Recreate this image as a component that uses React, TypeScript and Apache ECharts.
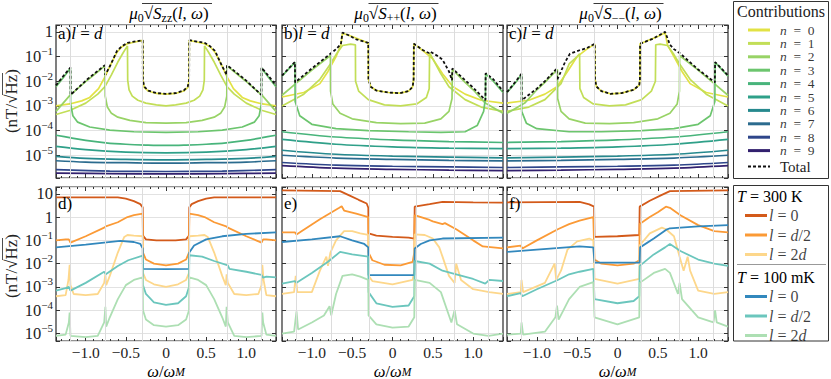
import React, { useEffect, useRef } from 'react';
import * as echarts from 'echarts';

type Pts = [number, number][];

const FONT = "'Liberation Serif', 'DejaVu Serif', serif";

// ---------- axes ----------
const xMin = -1.37;
const xMax = 1.37;
const topYMin = 1.2e-6;
const topYMax = 1.9;
const botYMin = 4.8e-6;
const botYMax = 19.5;
const bandEdges = [-1.19, -0.76, -0.29, 0.29, 0.76, 1.19];

// ---------- legend ----------
const contributionLabels = ['0', '1', '2', '3', '4', '5', '6', '7', '8', '9'];
const contributionColors = ['#e2e244', '#c2de57', '#98d366', '#6cc56e', '#48b47b', '#2fa089', '#26898e', '#2b6b8e', '#2e468a', '#32206e'];
const tempGroups = ['300 K', '100 mK'];
const distLabels = ['0', 'd/2', '2d'];
const tempColors = ['#d35a1a', '#fb9a36', '#fdd78b', '#3288bd', '#6bc6bd', '#addfb3'];
const panelLetters = ['a)', 'b)', 'c)', 'd)', 'e)', 'f)'];

// ---------- panel a : Szz ----------
const aN0: Pts = [[-1.37,1.0e-3],[-1.2,1.2e-3],[-1.05,1.6e-3],[-0.95,2.2e-3],[-0.84,5e-3],[-0.76,0.015],[-0.7,0.04],[-0.61,0.15],[-0.55,0.25],[-0.48,0.33],[-0.4,0.38],[-0.29,0.45],[-0.288,0.011],[-0.27,5.5e-3],[-0.22,4e-3],[-0.12,3.2e-3],[0,3e-3],[0.12,3.2e-3],[0.22,4e-3],[0.27,5.5e-3],[0.288,0.011],[0.29,0.45],[0.4,0.38],[0.48,0.33],[0.55,0.25],[0.61,0.15],[0.7,0.04],[0.76,0.015],[0.84,5e-3],[0.95,2.2e-3],[1.05,1.6e-3],[1.2,1.2e-3],[1.37,1.0e-3]];
const aN1: Pts = [[-1.37,4.5e-4],[-1.2,6.5e-4],[-1.0,1.3e-3],[-0.85,3e-3],[-0.76,6e-3],[-0.68,0.018],[-0.6,0.06],[-0.53,0.15],[-0.48,0.27],[-0.477,0.011],[-0.46,4.5e-3],[-0.42,2.5e-3],[-0.35,1.7e-3],[-0.25,1.3e-3],[-0.12,1.1e-3],[0,1e-3],[0.12,1.1e-3],[0.25,1.3e-3],[0.35,1.7e-3],[0.42,2.5e-3],[0.46,4.5e-3],[0.477,0.011],[0.48,0.27],[0.53,0.15],[0.6,0.06],[0.68,0.018],[0.76,6e-3],[0.85,3e-3],[1.0,1.3e-3],[1.2,6.5e-4],[1.37,4.5e-4]];
const aN2: Pts = [[-1.37,6e-4],[-1.2,2.6e-3],[-0.98,0.011],[-0.76,0.042],[-0.757,2.5e-3],[-0.73,9e-4],[-0.68,5e-4],[-0.6,3.5e-4],[-0.45,2.6e-4],[-0.25,2.1e-4],[0,2e-4],[0.25,2.1e-4],[0.45,2.6e-4],[0.6,3.5e-4],[0.68,5e-4],[0.73,9e-4],[0.757,2.5e-3],[0.76,0.042],[0.98,0.011],[1.2,2.6e-3],[1.37,6e-4]];
const aN3: Pts = [[-1.37,6e-3],[-1.28,0.014],[-1.19,0.034],[-1.188,1.2e-3],[-1.16,4e-4],[-1.1,2.2e-4],[-0.95,1.4e-4],[-0.7,1.05e-4],[-0.4,9e-5],[0,8.5e-5],[0.4,9e-5],[0.7,1.05e-4],[0.95,1.4e-4],[1.1,2.2e-4],[1.16,4e-4],[1.188,1.2e-3],[1.19,0.034],[1.28,0.014],[1.37,6e-3]];
const aN4: Pts = [[-1.37,6.5e-5],[-1.2,5.2e-5],[-1.0,4e-5],[-0.75,3.2e-5],[-0.5,2.8e-5],[-0.25,2.6e-5],[0,2.5e-5],[0.25,2.6e-5],[0.5,2.8e-5],[0.75,3.2e-5],[1.0,4e-5],[1.2,5.2e-5],[1.37,6.5e-5]];
const aN5: Pts = [[-1.37,2.3e-5],[-1.0,1.7e-5],[-0.5,1.35e-5],[0,1.25e-5],[0.5,1.35e-5],[1.0,1.7e-5],[1.37,2.3e-5]];
const aN6: Pts = [[-1.37,9e-6],[-1.0,7.5e-6],[-0.5,6.8e-6],[0,6.5e-6],[0.5,6.8e-6],[1.0,7.5e-6],[1.37,9e-6]];
const aN7: Pts = [[-1.37,6e-6],[-1.0,5.3e-6],[-0.5,5e-6],[0,4.8e-6],[0.5,5e-6],[1.0,5.3e-6],[1.37,6e-6]];
const aN8: Pts = [[-1.37,2.6e-6],[-0.7,2.3e-6],[0,2.2e-6],[0.7,2.3e-6],[1.37,2.6e-6]];
const aN9: Pts = [[-1.37,1.9e-6],[-0.7,1.8e-6],[0,1.75e-6],[0.7,1.8e-6],[1.37,1.9e-6]];
const aTotal: Pts = [[-1.37,6.8e-3],[-1.28,0.016],[-1.19,0.036],[-1.188,2.8e-3],[-0.98,0.012],[-0.76,0.045],[-0.757,0.018],[-0.7,0.04],[-0.61,0.17],[-0.55,0.26],[-0.48,0.36],[-0.4,0.4],[-0.29,0.46],[-0.288,0.011],[-0.27,6e-3],[-0.22,4.2e-3],[-0.12,3.3e-3],[0,3.1e-3],[0.12,3.3e-3],[0.22,4.2e-3],[0.27,6e-3],[0.288,0.011],[0.29,0.46],[0.4,0.4],[0.48,0.36],[0.55,0.26],[0.61,0.17],[0.7,0.04],[0.757,0.018],[0.76,0.045],[0.98,0.012],[1.188,2.8e-3],[1.19,0.036],[1.28,0.016],[1.37,6.8e-3]];

// ---------- panel b : S++ ----------
const bN0: Pts = [[-1.37,2.3e-3],[-1.1,3.5e-3],[-0.9,8e-3],[-0.8,0.025],[-0.7,0.1],[-0.64,0.3],[-0.62,0.88],[-0.5,0.65],[-0.4,0.48],[-0.3,0.35],[-0.298,0.012],[-0.27,6e-3],[-0.2,4.2e-3],[-0.05,3.5e-3],[0.09,3.3e-3],[0.2,4e-3],[0.25,6e-3],[0.262,0.012],[0.265,0.33],[0.38,0.17],[0.5,0.08],[0.62,0.02],[0.75,6e-3],[0.9,3e-3],[1.1,1.7e-3],[1.37,1.3e-3]];
const bN1: Pts = [[-1.37,1e-3],[-1.1,3e-3],[-0.9,0.012],[-0.77,0.05],[-0.7,0.12],[-0.62,0.28],[-0.52,0.32],[-0.46,0.3],[-0.458,0.01],[-0.42,4e-3],[-0.3,1.8e-3],[-0.1,1.1e-3],[0.1,1e-3],[0.3,1.2e-3],[0.42,2.2e-3],[0.455,5e-3],[0.46,0.14],[0.5,0.08],[0.6,0.02],[0.7,6e-3],[0.9,1.8e-3],[1.1,9e-4],[1.37,6e-4]];
const bN2: Pts = [[-1.37,2.7e-3],[-1.2,8e-3],[-1.0,0.028],[-0.77,0.11],[-0.768,4e-3],[-0.74,1.2e-3],[-0.65,5e-4],[-0.5,3e-4],[-0.2,2.1e-4],[0.1,1.9e-4],[0.4,2e-4],[0.6,3e-4],[0.7,6e-4],[0.738,2e-3],[0.742,0.03],[0.9,9e-3],[1.0,4.5e-3],[1.15,1.3e-3],[1.37,5e-4]];
const bN3: Pts = [[-1.37,0.016],[-1.3,0.028],[-1.21,0.058],[-1.207,1.5e-3],[-1.15,4e-4],[-1.0,1.8e-4],[-0.7,1.2e-4],[-0.3,1e-4],[0.2,9e-5],[0.6,8.5e-5],[0.9,9e-5],[1.05,1.6e-4],[1.13,6e-4],[1.152,2e-3],[1.155,0.02],[1.25,0.01],[1.37,3.5e-3]];
const bN4: Pts = [[-1.37,9e-5],[-0.7,5.5e-5],[0,4.2e-5],[0.7,3.6e-5],[1.37,3.3e-5]];
const bN5: Pts = [[-1.37,4.4e-5],[-0.7,2.8e-5],[0,2.2e-5],[0.7,1.95e-5],[1.37,1.85e-5]];
const bN6: Pts = [[-1.37,1.6e-5],[-0.7,1.1e-5],[0,9.3e-6],[0.7,8.4e-6],[1.37,7.8e-6]];
const bN7: Pts = [[-1.37,1e-5],[-0.7,7.7e-6],[0,6.8e-6],[0.7,6.2e-6],[1.37,5.9e-6]];
const bN8: Pts = [[-1.37,5.1e-6],[-0.7,4e-6],[0,3.6e-6],[0.7,3.4e-6],[1.37,3.2e-6]];
const bN9: Pts = [[-1.37,3.8e-6],[-0.7,3e-6],[0,2.7e-6],[0.7,2.5e-6],[1.37,2.4e-6]];
const bTotal: Pts = [[-1.37,0.017],[-1.3,0.03],[-1.21,0.06],[-1.207,9e-3],[-1.0,0.033],[-0.77,0.13],[-0.7,0.2],[-0.64,0.32],[-0.62,0.93],[-0.55,0.75],[-0.45,0.5],[-0.3,0.36],[-0.298,0.012],[-0.27,6e-3],[-0.2,4.2e-3],[-0.05,3.5e-3],[0.09,3.3e-3],[0.2,4e-3],[0.25,6e-3],[0.262,0.012],[0.265,0.33],[0.38,0.18],[0.45,0.14],[0.465,0.16],[0.55,0.11],[0.62,0.075],[0.7,0.025],[0.738,0.011],[0.742,0.033],[0.9,0.011],[1.0,5.5e-3],[1.152,1.7e-3],[1.155,0.021],[1.25,0.012],[1.37,4e-3]];

// ---------- panel c : S-- ----------
const cN0: Pts = [[-1.37,1.3e-3],[-1.1,1.7e-3],[-0.9,3e-3],[-0.75,6e-3],[-0.62,0.025],[-0.5,0.1],[-0.38,0.2],[-0.282,0.32],[-0.279,0.012],[-0.26,6e-3],[-0.2,4e-3],[-0.09,3.1e-3],[0.05,3.3e-3],[0.2,4.5e-3],[0.27,7e-3],[0.278,0.012],[0.28,0.33],[0.4,0.48],[0.5,0.65],[0.59,0.92],[0.62,0.3],[0.7,0.1],[0.8,0.025],[0.9,8e-3],[1.1,3.5e-3],[1.37,2.3e-3]];
const cN1: Pts = [[-1.37,6e-4],[-1.1,9e-4],[-0.9,1.8e-3],[-0.7,8e-3],[-0.6,0.05],[-0.5,0.1],[-0.47,0.13],[-0.466,5e-3],[-0.42,2.2e-3],[-0.3,1.2e-3],[-0.1,1e-3],[0.1,1.1e-3],[0.3,1.8e-3],[0.42,4e-3],[0.47,0.01],[0.474,0.3],[0.53,0.32],[0.62,0.28],[0.7,0.12],[0.77,0.05],[0.9,0.012],[1.1,3e-3],[1.37,1e-3]];
const cN2: Pts = [[-1.37,5e-4],[-1.15,1.3e-3],[-1.0,4.5e-3],[-0.9,9e-3],[-0.745,0.03],[-0.742,2e-3],[-0.7,6e-4],[-0.6,3e-4],[-0.4,2e-4],[-0.1,1.9e-4],[0.2,2.1e-4],[0.5,3e-4],[0.65,5e-4],[0.74,1.2e-3],[0.768,4e-3],[0.77,0.11],[1.0,0.028],[1.2,8e-3],[1.37,2.7e-3]];
const cN3: Pts = [[-1.37,3.5e-3],[-1.25,0.01],[-1.19,0.019],[-1.188,6e-4],[-1.13,2e-4],[-1.0,1.2e-4],[-0.6,9e-5],[-0.2,9e-5],[0.3,1e-4],[0.7,1.2e-4],[1.0,1.8e-4],[1.15,4e-4],[1.207,1.5e-3],[1.21,0.058],[1.3,0.028],[1.37,0.016]];
const cN4: Pts = [[-1.37,3.3e-5],[-0.7,3.6e-5],[0,4.2e-5],[0.7,5.5e-5],[1.37,9e-5]];
const cN5: Pts = [[-1.37,1.85e-5],[-0.7,1.95e-5],[0,2.2e-5],[0.7,2.8e-5],[1.37,4.4e-5]];
const cN6: Pts = [[-1.37,7.8e-6],[-0.7,8.4e-6],[0,9.3e-6],[0.7,1.1e-5],[1.37,1.6e-5]];
const cN7: Pts = [[-1.37,5.9e-6],[-0.7,6.2e-6],[0,6.8e-6],[0.7,7.7e-6],[1.37,1e-5]];
const cN8: Pts = [[-1.37,3.2e-6],[-0.7,3.4e-6],[0,3.6e-6],[0.7,4e-6],[1.37,5.1e-6]];
const cN9: Pts = [[-1.37,2.4e-6],[-0.7,2.5e-6],[0,2.7e-6],[0.7,3e-6],[1.37,3.8e-6]];
const cTotal: Pts = [[-1.37,3.6e-3],[-1.25,0.011],[-1.19,0.02],[-1.188,1.7e-3],[-1.0,5e-3],[-0.9,0.01],[-0.755,0.032],[-0.75,0.011],[-0.65,0.06],[-0.59,0.13],[-0.47,0.18],[-0.38,0.22],[-0.282,0.33],[-0.279,0.012],[-0.26,6e-3],[-0.2,4e-3],[-0.09,3.1e-3],[0.05,3.3e-3],[0.2,4.5e-3],[0.27,7e-3],[0.278,0.012],[0.28,0.33],[0.44,0.53],[0.59,1.0],[0.65,0.3],[0.7,0.2],[0.78,0.13],[1.0,0.03],[1.207,9e-3],[1.21,0.06],[1.3,0.03],[1.37,0.017]];

// ---------- panel d ----------
const dHot0: Pts = [[-1.37,7],[-0.6,7],[-0.5,6.2],[-0.4,4.8],[-0.32,3.6],[-0.29,2.6],[-0.287,0.16],[-0.25,0.11],[-0.12,0.1],[0,0.1],[0.12,0.1],[0.25,0.11],[0.287,0.16],[0.29,2.6],[0.32,3.6],[0.4,4.8],[0.5,6.2],[0.6,7],[1.37,7]];
const dHotD2: Pts = [[-1.37,0.1],[-1.25,0.11],[-1.21,0.11],[-1.19,0.08],[-1.0,0.15],[-0.77,0.35],[-0.75,0.4],[-0.6,0.6],[-0.48,1.0],[-0.4,1.2],[-0.29,1.4],[-0.287,0.03],[-0.25,0.015],[-0.15,0.01],[0,8.5e-3],[0.15,0.01],[0.25,0.015],[0.287,0.03],[0.29,1.4],[0.4,1.2],[0.48,1.0],[0.6,0.6],[0.75,0.4],[0.77,0.35],[1.0,0.15],[1.19,0.08],[1.21,0.11],[1.25,0.11],[1.37,0.1]];
const dHot2d: Pts = [[-1.37,4e-4],[-1.25,4.5e-4],[-1.215,2e-3],[-1.2,9e-3],[-1.19,1.2e-3],[-1.15,5e-4],[-1.0,4.5e-4],[-0.85,5e-4],[-0.77,1.5e-3],[-0.755,3.5e-3],[-0.745,1.2e-3],[-0.7,3e-3],[-0.6,0.03],[-0.52,0.14],[-0.48,0.17],[-0.4,0.16],[-0.29,0.15],[-0.287,4e-3],[-0.25,2e-3],[-0.15,1.3e-3],[0,1e-3],[0.15,1.3e-3],[0.25,2e-3],[0.287,4e-3],[0.29,0.15],[0.4,0.16],[0.48,0.17],[0.52,0.14],[0.6,0.03],[0.7,3e-3],[0.745,1.2e-3],[0.755,3.5e-3],[0.77,1.5e-3],[0.85,5e-4],[1.0,4.5e-4],[1.15,5e-4],[1.19,1.2e-3],[1.2,9e-3],[1.215,2e-3],[1.25,4.5e-4],[1.37,4e-4]];
const dCold0: Pts = [[-1.37,0.05],[-1.0,0.065],[-0.57,0.095],[-0.4,0.085],[-0.32,0.07],[-0.29,0.045],[-0.287,6e-3],[0,5.8e-3],[0.287,6e-3],[0.29,0.03],[0.35,0.06],[0.5,0.11],[0.7,0.15],[1.0,0.19],[1.37,0.22]];
const dColdD2: Pts = [[-1.37,7e-4],[-1.25,9e-4],[-1.21,1e-3],[-1.19,7e-4],[-1.0,1.5e-3],[-0.77,4.5e-3],[-0.75,3.5e-3],[-0.6,8e-3],[-0.47,0.014],[-0.29,0.022],[-0.287,1.2e-3],[-0.25,5e-4],[-0.15,2.2e-4],[0,1.7e-4],[0.15,2e-4],[0.25,4e-4],[0.287,1e-3],[0.29,0.023],[0.45,0.02],[0.6,0.013],[0.77,8.5e-3],[0.79,6e-3],[1.0,4.5e-3],[1.19,3.3e-3],[1.21,2.5e-3],[1.25,2.8e-3],[1.37,2.6e-3]];
const dCold2d: Pts = [[-1.37,8e-6],[-1.25,9e-6],[-1.21,3e-5],[-1.2,8e-5],[-1.19,8e-6],[-1.0,7e-6],[-0.85,8e-6],[-0.77,3e-5],[-0.755,1.4e-4],[-0.745,2e-5],[-0.7,5e-5],[-0.6,3e-4],[-0.5,1.2e-3],[-0.4,2e-3],[-0.29,2.6e-3],[-0.287,1e-4],[-0.25,4e-5],[-0.15,2.3e-5],[0,2e-5],[0.15,2.3e-5],[0.25,4e-5],[0.287,1e-4],[0.29,2.6e-3],[0.4,2e-3],[0.5,1.2e-3],[0.6,3e-4],[0.7,5e-5],[0.745,2e-5],[0.755,1.4e-4],[0.77,3e-5],[0.85,8e-6],[1.0,7e-6],[1.19,8e-6],[1.2,8e-5],[1.21,3e-5],[1.25,9e-6],[1.37,8e-6]];

// ---------- panel e ----------
const eHot0: Pts = [[-1.37,14],[-0.65,13],[-0.55,9],[-0.42,5.5],[-0.32,3.8],[-0.3,2.5],[-0.297,0.2],[-0.2,0.16],[0,0.14],[0.2,0.13],[0.27,0.12],[0.275,2.8],[0.46,3.6],[0.62,4.5],[1.0,4.3],[1.37,4.2]];
const eHotD2: Pts = [[-1.37,0.22],[-1.21,0.22],[-1.19,0.18],[-0.9,0.8],[-0.66,2.5],[-0.63,2.9],[-0.6,1.9],[-0.45,1.4],[-0.3,1.0],[-0.297,0.03],[-0.25,0.014],[-0.1,9e-3],[0.1,8.5e-3],[0.25,0.012],[0.27,0.03],[0.275,1.2],[0.46,0.75],[0.5,0.65],[0.62,0.5],[0.65,0.55],[0.79,0.3],[1.0,0.1],[1.12,0.055],[1.37,0.045]];
const eHot2d: Pts = [[-1.37,5e-4],[-1.22,6e-4],[-1.2,3e-3],[-1.18,6e-4],[-1.0,6e-4],[-0.9,5e-3],[-0.82,0.02],[-0.8,8e-3],[-0.77,0.03],[-0.7,0.1],[-0.6,0.25],[-0.5,0.25],[-0.4,0.2],[-0.3,0.17],[-0.297,3e-3],[-0.25,1.8e-3],[0,1.3e-3],[0.25,2e-3],[0.27,5e-3],[0.275,0.18],[0.4,0.17],[0.5,0.12],[0.58,0.05],[0.62,0.02],[0.7,3e-3],[0.77,1.5e-3],[0.79,0.01],[0.85,2e-3],[1.0,8e-4],[1.2,6e-4],[1.37,5e-4]];
const eCold0: Pts = [[-1.37,0.085],[-1.0,0.11],[-0.65,0.15],[-0.5,0.1],[-0.35,0.07],[-0.3,0.05],[-0.297,3.2e-3],[0,3.2e-3],[0.27,3.2e-3],[0.275,0.045],[0.35,0.07],[0.46,0.1],[0.62,0.12],[1.37,0.13]];
const eColdD2: Pts = [[-1.37,1.4e-3],[-1.21,1.8e-3],[-1.19,1.5e-3],[-1.0,4e-3],[-0.8,0.012],[-0.65,0.032],[-0.5,0.025],[-0.3,0.02],[-0.297,6e-4],[-0.2,2e-4],[0,1.4e-4],[0.2,1.6e-4],[0.27,4e-4],[0.275,0.013],[0.46,0.01],[0.62,5e-3],[0.79,3.5e-3],[1.0,2.2e-3],[1.15,1.4e-3],[1.2,2e-3],[1.37,1.8e-3]];
const eCold2d: Pts = [[-1.37,1e-5],[-1.22,1.2e-5],[-1.19,9e-5],[-1.17,1.5e-5],[-1.0,3e-5],[-0.85,6e-5],[-0.78,1.5e-4],[-0.76,6e-5],[-0.7,5e-4],[-0.62,3e-3],[-0.5,3.5e-3],[-0.4,2.8e-3],[-0.3,2e-3],[-0.297,6e-5],[-0.2,2.5e-5],[0,1.8e-5],[0.2,2e-5],[0.27,5e-5],[0.275,2e-3],[0.46,1.5e-3],[0.6,6e-4],[0.7,6e-5],[0.73,3e-5],[0.77,1e-4],[0.8,2.5e-5],[1.0,1e-5],[1.19,8e-6],[1.37,1e-5]];

// ---------- panel f ----------
const fHot0: Pts = [[-1.37,4.3],[-0.47,4.5],[-0.35,3.5],[-0.29,2.8],[-0.285,0.14],[0,0.15],[0.27,0.17],[0.275,2.8],[0.4,5],[0.55,9],[0.65,13],[1.37,14]];
const fHotD2: Pts = [[-1.37,0.05],[-1.2,0.06],[-1.18,0.045],[-1.0,0.1],[-0.74,0.3],[-0.6,0.5],[-0.47,0.7],[-0.3,1.0],[-0.285,0.015],[-0.2,0.01],[0,8.5e-3],[0.2,0.01],[0.27,0.014],[0.275,0.5],[0.4,1.0],[0.5,1.6],[0.6,2.8],[0.65,2.5],[0.78,1.2],[1.0,0.45],[1.2,0.25],[1.37,0.22]];
const fHot2d: Pts = [[-1.37,5e-4],[-1.2,6e-4],[-1.19,2e-3],[-1.17,6e-4],[-0.9,1.5e-3],[-0.78,0.01],[-0.76,2e-3],[-0.7,5e-3],[-0.62,0.04],[-0.5,0.09],[-0.35,0.12],[-0.3,0.1],[-0.285,2.2e-3],[0,1.4e-3],[0.27,2.2e-3],[0.275,0.06],[0.4,0.2],[0.55,0.35],[0.6,0.3],[0.7,0.15],[0.77,0.02],[0.82,5e-3],[0.87,0.02],[0.9,5e-3],[1.0,7e-4],[1.2,5e-4],[1.37,6e-4]];
const fCold0: Pts = [[-1.37,0.032],[-1.0,0.04],[-0.47,0.055],[-0.3,0.05],[-0.285,0.011],[0,0.011],[0.275,0.011],[0.28,0.05],[0.45,0.12],[0.6,0.28],[0.65,0.33],[1.0,0.4],[1.37,0.45]];
const fColdD2: Pts = [[-1.37,4e-4],[-1.2,5.5e-4],[-1.18,4e-4],[-1.0,8e-4],[-0.74,2e-3],[-0.6,3.5e-3],[-0.47,4.5e-3],[-0.3,6e-3],[-0.285,3e-4],[0,2e-4],[0.2,2.5e-4],[0.27,4e-4],[0.275,8e-3],[0.45,0.025],[0.59,0.05],[0.65,0.07],[0.78,0.035],[1.0,0.015],[1.2,0.01],[1.37,8e-3]];
const fCold2d: Pts = [[-1.37,9e-6],[-1.2,1e-5],[-1.19,3e-5],[-1.17,9e-6],[-0.9,1.2e-5],[-0.77,5e-5],[-0.75,1.6e-4],[-0.73,4e-5],[-0.6,3e-4],[-0.47,1e-3],[-0.3,1.6e-3],[-0.285,5e-5],[0,2.5e-5],[0.27,5e-5],[0.275,1.5e-3],[0.45,4e-3],[0.59,6e-3],[0.65,4e-3],[0.75,5e-4],[0.77,1.5e-3],[0.8,3e-4],[1.0,5e-5],[1.19,3e-5],[1.21,1e-4],[1.23,3e-5],[1.37,2e-5]];

const topPanels = [
  { n: [aN0, aN1, aN2, aN3, aN4, aN5, aN6, aN7, aN8, aN9], total: aTotal },
  { n: [bN0, bN1, bN2, bN3, bN4, bN5, bN6, bN7, bN8, bN9], total: bTotal },
  { n: [cN0, cN1, cN2, cN3, cN4, cN5, cN6, cN7, cN8, cN9], total: cTotal },
];
const bottomPanels: Pts[][] = [
  [dHot0, dHotD2, dHot2d, dCold0, dColdD2, dCold2d],
  [eHot0, eHotD2, eHot2d, eCold0, eColdD2, eCold2d],
  [fHot0, fHotD2, fHot2d, fCold0, fColdD2, fCold2d],
];

const titleSubs = ['zz', '++', '\u2212\u2212'];

function logLabel(v: number): string {
  const e = Math.log10(v);
  const r = Math.round(e);
  if (Math.abs(e - r) > 1e-6) return '';
  if (r === 0) return '{b|1}';
  if (r === 1) return '{b|10}';
  return '{b|10}{s|' + (r < 0 ? '\u2212' + -r : String(r)) + '}';
}
function xLabel(v: number): string {
  if (Math.abs(v * 2 - Math.round(v * 2)) > 1e-9) return '';
  if (Math.abs(v) < 1e-9) return '0';
  return (v < 0 ? '\u2212' : '') + Math.abs(v).toFixed(1);
}

const richBase = {
  b: { fontFamily: FONT, fontSize: 16.5, lineHeight: 22, verticalAlign: 'middle', color: '#222' },
  s: { fontFamily: FONT, fontSize: 11, lineHeight: 10, verticalAlign: 'top', color: '#222' },
};
const richMath = (size: number, color: string, lh = 8) => ({
  n: { fontFamily: FONT, fontSize: size, lineHeight: size + lh, verticalAlign: 'middle', color },
  i: { fontFamily: FONT, fontSize: size, fontStyle: 'italic', lineHeight: size + lh, verticalAlign: 'middle', color },
  sub: { fontFamily: FONT, fontSize: size * 0.7, fontStyle: 'italic', lineHeight: size * 0.7, verticalAlign: 'bottom', color },
  subn: { fontFamily: FONT, fontSize: size * 0.7, lineHeight: size * 0.7, verticalAlign: 'bottom', color },
});

function buildOption() {
  const rects = [
    { left: 56, top: 25, width: 220, height: 153 },
    { left: 282, top: 25, width: 221, height: 153 },
    { left: 507, top: 25, width: 221, height: 153 },
    { left: 56, top: 187, width: 220, height: 154 },
    { left: 282, top: 187, width: 221, height: 154 },
    { left: 507, top: 187, width: 221, height: 154 },
  ];
  const grid = rects.map((r) => ({ ...r, show: true, borderColor: '#2a2a2a', borderWidth: 1.2, backgroundColor: 'transparent' }));
  const tickStyle = { color: '#333', width: 1 };
  const xAxis: any[] = [];
  const yAxis: any[] = [];
  rects.forEach((_, i) => {
    const bottomRow = i >= 3;
    const common = {
      type: 'value', gridIndex: i, min: xMin, max: xMax,
      axisLine: { show: false, onZero: false },
      axisTick: { show: true, inside: true, length: 4, lineStyle: tickStyle },
      minorTick: { show: true, inside: true, splitNumber: 5, length: 2, lineStyle: tickStyle },
      splitLine: { show: false },
    };
    xAxis.push({ ...common, position: 'bottom',
      axisLabel: { show: bottomRow, formatter: xLabel, fontFamily: FONT, fontSize: 15.5, lineHeight: 16, color: '#222', margin: 3, showMinLabel: false, showMaxLabel: false } });
    xAxis.push({ ...common, position: 'top', axisLabel: { show: false } });
    const yMin = bottomRow ? botYMin : topYMin;
    const yMax = bottomRow ? botYMax : topYMax;
    const yCommon = {
      type: 'log', logBase: 10, gridIndex: i, min: yMin, max: yMax,
      axisLine: { show: false, onZero: false },
      axisTick: { show: true, inside: true, length: 4, lineStyle: tickStyle },
    };
    yAxis.push({ ...yCommon, position: 'left',
      splitLine: { show: true, lineStyle: { color: '#e2e2e2', width: 1 } },
      axisLabel: { show: i === 0 || i === 3, formatter: logLabel, rich: richBase, margin: 3 } });
    yAxis.push({ ...yCommon, position: 'right', splitLine: { show: false }, axisLabel: { show: false } });
  });

  const series: any[] = [];
  rects.forEach((_, i) => {
    const bottomRow = i >= 3;
    series.push({
      type: 'line', xAxisIndex: 2 * i, yAxisIndex: 2 * i, data: [[0, bottomRow ? 1 : 1e-3]], showSymbol: false, symbol: 'none',
      lineStyle: { opacity: 0 }, silent: true, z: 1,
      markLine: { silent: true, symbol: ['none', 'none'], label: { show: false }, animation: false,
        lineStyle: { color: '#dcdcdc', width: 1, type: 'solid' },
        data: bandEdges.map((x) => ({ xAxis: x })) },
    });
  });
  topPanels.forEach((p, i) => {
    p.n.forEach((d, k) => {
      series.push({ type: 'line', name: 'n = ' + contributionLabels[k], xAxisIndex: 2 * i, yAxisIndex: 2 * i, data: d,
        showSymbol: false, symbol: 'none', smooth: k >= 4 ? 0.35 : false, z: 3,
        lineStyle: { color: contributionColors[k], width: 1.7 } });
    });
    series.push({ type: 'line', name: 'Total', xAxisIndex: 2 * i, yAxisIndex: 2 * i, data: p.total,
      showSymbol: false, symbol: 'none', z: 4,
      lineStyle: { color: '#111', width: 1.8, type: [3, 2.2] } });
  });
  bottomPanels.forEach((p, j) => {
    const i = j + 3;
    p.forEach((d, k) => {
      series.push({ type: 'line', name: (k < 3 ? 'hot ' : 'cold ') + distLabels[k % 3], xAxisIndex: 2 * i, yAxisIndex: 2 * i, data: d,
        showSymbol: false, symbol: 'none', z: 3,
        lineStyle: { color: tempColors[k], width: 1.8 } });
    });
  });

  // ---------- graphics ----------
  const graphic: any[] = [];
  const centers = [166, 392.5, 617.5];
  centers.forEach((cx, k) => {
    graphic.push({ type: 'text', x: cx + 3, y: 13, silent: true,
      style: { text: '{i|\u03bc}{subn|0}{n|\u221a}{i|S}{subn|' + titleSubs[k] + '}{n|(}{i|l}{n|, }{i|\u03c9}{n|)}',
        rich: richMath(17, '#222', 4), textVerticalAlign: 'middle', textAlign: 'center' } });
    graphic.push({ type: 'line', silent: true, shape: { x1: cx - 24, y1: 3.5, x2: cx + 46, y2: 3.5 }, style: { stroke: '#222', lineWidth: 0.9 } });
    graphic.push({ type: 'text', x: cx, y: 371, silent: true,
      style: { text: '{i|\u03c9}{n|/}{i|\u03c9}{sub|M}', rich: richMath(16.5, '#222', -3), textAlign: 'center', textVerticalAlign: 'middle' } });
  });
  rects.forEach((r, i) => {
    graphic.push({ type: 'text', x: r.left + 2, y: r.top + (i < 3 ? 8 : 16), silent: true, z: 10,
      style: { text: i < 3 ? '{n|' + panelLetters[i] + '}{i|l}{n| = }{i|d}' : '{n|' + panelLetters[i] + '}',
        rich: richMath(17, '#222', 2), textAlign: 'left', textVerticalAlign: 'middle' } });
  });
  [101, 266].forEach((cy) => {
    graphic.push({ type: 'group', x: 11, y: cy, rotation: Math.PI / 2, silent: true, children: [
      { type: 'text', x: 0, y: 0, style: { text: '(nT/\u221aHz)', fontFamily: FONT, fontSize: 17, fill: '#222', textAlign: 'center', textVerticalAlign: 'middle' } },
      { type: 'line', shape: { x1: 6, y1: -8.5, x2: 28, y2: -8.5 }, style: { stroke: '#222', lineWidth: 0.8 } },
    ] });
  });

  // legend 1
  graphic.push({ type: 'rect', silent: true, shape: { x: 733.5, y: 1.5, width: 95, height: 177 }, style: { fill: '#fff', stroke: '#333', lineWidth: 1 } });
  graphic.push({ type: 'text', x: 781, y: 11, silent: true, style: { text: 'Contributions', fontFamily: FONT, fontSize: 16, lineHeight: 13, fill: '#222', textAlign: 'center', textVerticalAlign: 'middle' } });
  contributionLabels.forEach((lab, k) => {
    const y = 30 + k * 13.4;
    graphic.push({ type: 'line', silent: true, shape: { x1: 748, y1: y, x2: 770, y2: y }, style: { stroke: contributionColors[k], lineWidth: 3 } });
    graphic.push({ type: 'text', x: 780, y, silent: true, style: { text: '{i|n}{n|\u2002=\u2002' + lab + '}', rich: richMath(13.5, contributionColors[k], -2), opacity: 0.8, textAlign: 'left', textVerticalAlign: 'middle' } });
  });
  graphic.push({ type: 'line', silent: true, shape: { x1: 748, y1: 166.5, x2: 770, y2: 166.5 }, style: { stroke: '#111', lineWidth: 2, lineDash: [3, 2] } });
  graphic.push({ type: 'text', x: 780, y: 166.5, silent: true, style: { text: 'Total', fontFamily: FONT, fontSize: 15, lineHeight: 12, fill: '#222', textAlign: 'left', textVerticalAlign: 'middle' } });

  // legend 2
  graphic.push({ type: 'rect', silent: true, shape: { x: 733.5, y: 185.5, width: 95, height: 155.5 }, style: { fill: '#fff', stroke: '#333', lineWidth: 1 } });
  graphic.push({ type: 'line', silent: true, shape: { x1: 737, y1: 264.5, x2: 826, y2: 264.5 }, style: { stroke: '#999', lineWidth: 1 } });
  tempGroups.forEach((tg, g) => {
    const y0 = g === 0 ? 196 : 277;
    graphic.push({ type: 'text', x: 737, y: y0, silent: true, style: { text: '{i|T}{n| = ' + tg + '}', rich: richMath(16, '#222', -2), textAlign: 'left', textVerticalAlign: 'middle' } });
    distLabels.forEach((dl, k) => {
      const y = y0 + 19.5 * (k + 1);
      const col = tempColors[g * 3 + k];
      graphic.push({ type: 'line', silent: true, shape: { x1: 745, y1: y, x2: 767, y2: y }, style: { stroke: col, lineWidth: 3 } });
      const lab = dl === '0' ? '{n|0}' : dl === 'd/2' ? '{i|d}{n|/2}' : '{n|2}{i|d}';
      graphic.push({ type: 'text', x: 769, y, silent: true, style: { text: '{i|l}{n| = }' + lab, rich: richMath(16, col, -2), opacity: 0.75, textAlign: 'left', textVerticalAlign: 'middle' } });
    });
  });

  return { animation: false, backgroundColor: '#fff', grid, xAxis, yAxis, series, graphic };
}

export default function App() {
  const ref = useRef<HTMLDivElement>(null);
  useEffect(() => {
    if (!ref.current) return;
    const chart = echarts.init(ref.current, null, { renderer: 'svg' });
    chart.setOption(buildOption() as any);
    return () => chart.dispose();
  }, []);
  return <div ref={ref} style={{ position: 'fixed', left: 0, top: 0, width: 831, height: 379, background: '#fff' }} />;
}
